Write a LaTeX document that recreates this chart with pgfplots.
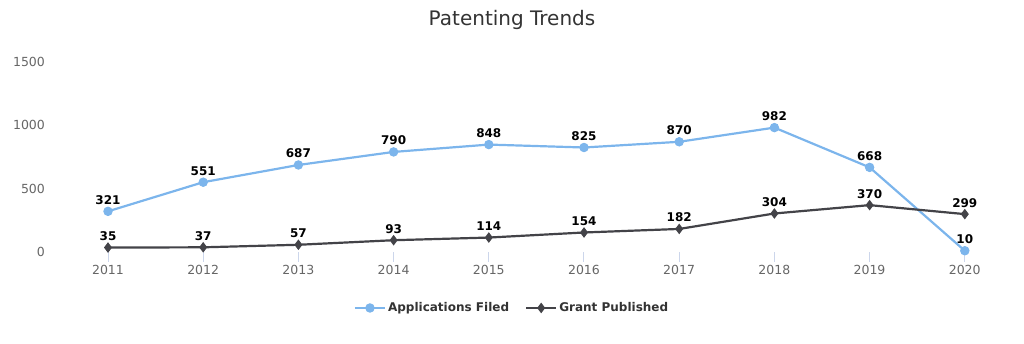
\documentclass[border=0pt]{standalone}
\usepackage{pgfplots}
\pgfplotsset{compat=1.18}
\usepackage{fontspec}
\setmainfont{DejaVu Sans}
\definecolor{blueS}{HTML}{7CB5EC}
\definecolor{darkS}{HTML}{434348}
\definecolor{tickc}{HTML}{CCD6EB}
\definecolor{labc}{HTML}{666666}
\definecolor{titc}{HTML}{333333}
\begin{document}
\begin{tikzpicture}[x=1pt,y=1pt]
\begin{axis}[
  at={(0,0)}, anchor=south west,
  scale only axis, width=952pt, height=190pt,
  xmin=2010.5, xmax=2020.5, ymin=0, ymax=1500,
  axis x line*=bottom, axis y line*=left,
  y axis line style={draw=none},
  x axis line style={draw=none},
  xtick={2011,...,2020}, ytick={0,500,1000,1500},
  tick align=outside, major tick length=10pt,
  xtick style={draw=tickc, line width=1pt},
  ytick style={draw=none},
  /pgf/number format/assume math mode=true,
  x tick label style={/pgf/number format/1000 sep={}, font=\fontsize{12.5}{12.5}\selectfont, text=labc},
  y tick label style={/pgf/number format/1000 sep={}, font=\fontsize{12.5}{12.5}\selectfont, text=labc, xshift=-2pt},
  clip=false,
  nodes near coords,
  nodes near coords style={font=\bfseries\fontsize{12}{12}\selectfont, text=black, yshift=3pt},
  legend style={at={(0.4744,-0.2947)}, anchor=center, draw=none, legend columns=2,
    font=\bfseries\fontsize{12}{12}\selectfont, text=titc, /tikz/every even column/.append style={column sep=14pt}},
  legend image code/.code={\draw[mark repeat=2,mark phase=2] plot coordinates {(0pt,0pt) (15pt,0pt) (30pt,0pt)};},
]
\addplot[color=blueS, line width=2.2pt, mark=*, mark size=4.2pt, mark options={fill=blueS, draw=blueS, line width=1pt}]
  coordinates {(2011,321) (2012,551) (2013,687) (2014,790) (2015,848) (2016,825) (2017,870) (2018,982) (2019,668) (2020,10)};
\addlegendentry{Applications Filed}
\addplot[color=darkS, line width=2.2pt, mark=diamond*, mark size=4.5pt, mark options={fill=darkS, draw=darkS, line width=1pt}]
  coordinates {(2011,35) (2012,37) (2013,57) (2014,93) (2015,114) (2016,154) (2017,182) (2018,304) (2019,370) (2020,299)};
\addlegendentry{Grant Published}
\end{axis}
\node[font=\fontsize{20}{20}\selectfont, text=titc] at (451.6,232) {Patenting Trends};
\pgfresetboundingbox
\useasboundingbox (-60.4,-92) rectangle (963.6,252);
\end{tikzpicture}
\end{document}
